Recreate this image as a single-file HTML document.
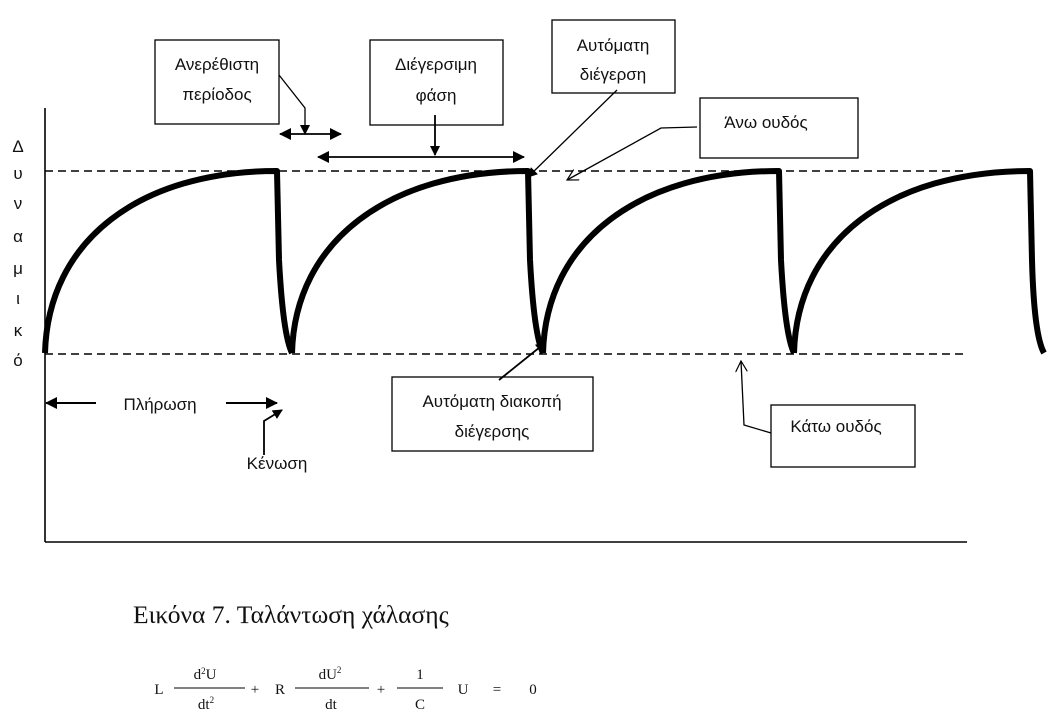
<!DOCTYPE html>
<html><head><meta charset="utf-8"><style>
html,body{margin:0;padding:0;background:#fff;}
svg{display:block;}
.t{font-family:"Liberation Sans","DejaVu Sans",sans-serif;font-size:17px;fill:#111;}
.s{font-family:"Liberation Serif","DejaVu Serif",serif;fill:#111;}
</style></head><body>
<svg width="1051" height="728" viewBox="0 0 1051 728" xmlns="http://www.w3.org/2000/svg">
<defs>
<marker id="a" markerWidth="10" markerHeight="10" refX="9" refY="5" orient="auto" markerUnits="userSpaceOnUse"><path d="M0,0 L10,5 L0,10 z" fill="#000"/></marker>
<marker id="as" markerWidth="12" markerHeight="12" refX="11" refY="6" orient="auto-start-reverse" markerUnits="userSpaceOnUse"><path d="M0,0 L12,6 L0,12 z" fill="#000"/></marker>
<marker id="o" markerWidth="12" markerHeight="12" refX="11" refY="6" orient="auto" markerUnits="userSpaceOnUse"><path d="M0,0 L11,6 L0,12" fill="none" stroke="#000" stroke-width="1.2"/></marker>
</defs>
<line x1="45" y1="108" x2="45" y2="542" stroke="#000" stroke-width="1.6"/>
<line x1="45" y1="542" x2="967" y2="542" stroke="#000" stroke-width="1.6"/>
<line x1="45" y1="171" x2="963" y2="171" stroke="#000" stroke-width="1.4" stroke-dasharray="8,5"/>
<line x1="45" y1="354" x2="963" y2="354" stroke="#000" stroke-width="1.4" stroke-dasharray="8,5"/>
<g fill="none" stroke="#000" stroke-width="6" stroke-linejoin="round">
<path d="M45,353 C48,240 140,171 277,171 L279,260 Q283,335 292,353"/>
<path d="M292,353 C295,240 390,171 528,171 L530,260 Q534,335 543,353"/>
<path d="M543,353 C546,240 640,171 779,171 L781,260 Q785,335 794,353"/>
<path d="M794,353 C797,240 890,171 1030,171 L1032,260 Q1034,335 1044,353"/>
</g>
<g class="t" text-anchor="middle" font-size="17">
<text x="18" y="152">Δ</text><text x="18" y="179">υ</text><text x="18" y="209">ν</text>
<text x="18" y="242">α</text><text x="18" y="274">μ</text><text x="18" y="304">ι</text>
<text x="18" y="336">κ</text><text x="18" y="366">ό</text>
</g>
<g fill="#fff" stroke="#000" stroke-width="1.3">
<rect x="155" y="40" width="124" height="84"/>
<rect x="370" y="40" width="133" height="85"/>
<rect x="552" y="20" width="123" height="73"/>
<rect x="700" y="98" width="158" height="60"/>
<rect x="771" y="405" width="144" height="62"/>
<rect x="392" y="377" width="201" height="74"/>
</g>
<g class="t" text-anchor="middle">
<text x="217" y="70">Ανερέθιστη</text><text x="217" y="100">περίοδος</text>
<text x="436" y="70">Διέγερσιμη</text><text x="436" y="101">φάση</text>
<text x="613" y="51">Αυτόματη</text><text x="613" y="80">διέγερση</text>
<text x="766" y="128">Άνω ουδός</text>
<text x="836" y="432">Κάτω ουδός</text>
<text x="492" y="407">Αυτόματη διακοπή</text><text x="492" y="437">διέγερσης</text>
<text x="160" y="410">Πλήρωση</text>
<text x="277" y="469">Κένωση</text>
</g>
<g fill="none" stroke="#000" stroke-width="1.3">
<polyline points="279,75 305,108 305,134" marker-end="url(#a)"/>
<line x1="280" y1="134" x2="341" y2="134" marker-start="url(#as)" marker-end="url(#as)" stroke-width="1.8"/>
<line x1="318" y1="157" x2="524" y2="157" marker-start="url(#as)" marker-end="url(#as)" stroke-width="1.8"/>
<line x1="435" y1="115" x2="435" y2="155" marker-end="url(#a)" stroke-width="1.8"/>
<line x1="617" y1="90" x2="528" y2="177" marker-end="url(#a)"/>
<polyline points="697,127 661,128 567,180" marker-end="url(#o)"/>
<polyline points="771,433 744,425 741,361" marker-end="url(#o)"/>
<line x1="499" y1="380" x2="545" y2="343" marker-end="url(#a)" stroke-width="1.8"/>
<line x1="96" y1="403" x2="46" y2="403" marker-end="url(#as)" stroke-width="2"/>
<line x1="226" y1="403" x2="277" y2="403" marker-end="url(#as)" stroke-width="2"/>
<polyline points="264,455 264,421 282,410" marker-end="url(#a)" stroke-width="1.8"/>
</g>
<text class="s" x="133" y="623" font-size="25.5">Εικόνα 7. Ταλάντωση χάλασης</text>
<g class="s" font-size="15" text-anchor="middle">
<text x="159" y="694">L</text>
<line x1="174" y1="688" x2="245" y2="688" stroke="#000" stroke-width="1"/>
<text x="205" y="679">d<tspan font-size="9" dy="-5">2</tspan><tspan dy="5">U</tspan></text>
<text x="206" y="709">dt<tspan font-size="9" dy="-6">2</tspan></text>
<text x="255" y="694">+</text>
<text x="280" y="694">R</text>
<line x1="295" y1="688" x2="369" y2="688" stroke="#000" stroke-width="1"/>
<text x="330" y="679">dU<tspan font-size="9" dy="-6">2</tspan></text>
<text x="331" y="709">dt</text>
<text x="381" y="694">+</text>
<line x1="397" y1="688" x2="443" y2="688" stroke="#000" stroke-width="1"/>
<text x="420" y="679">1</text>
<text x="420" y="709">C</text>
<text x="463" y="694">U</text>
<text x="497" y="694">=</text>
<text x="533" y="694">0</text>
</g>
</svg>
</body></html>
